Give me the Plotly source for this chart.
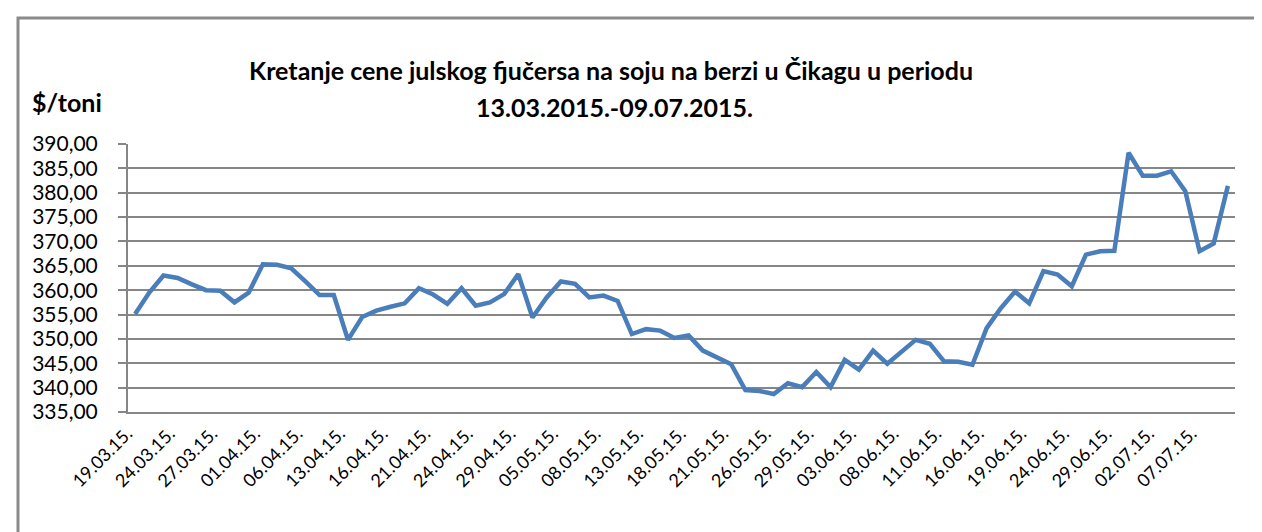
import plotly.graph_objects as go

dates = [
    "19.03.15.", "20.03.15.", "23.03.15.", "24.03.15.", "25.03.15.", "26.03.15.",
    "27.03.15.", "30.03.15.", "31.03.15.", "01.04.15.", "02.04.15.", "03.04.15.",
    "06.04.15.", "08.04.15.", "10.04.15.", "13.04.15.", "14.04.15.", "15.04.15.",
    "16.04.15.", "17.04.15.", "20.04.15.", "21.04.15.", "22.04.15.", "23.04.15.",
    "24.04.15.", "27.04.15.", "28.04.15.", "29.04.15.", "30.04.15.", "04.05.15.",
    "05.05.15.", "06.05.15.", "07.05.15.", "08.05.15.", "11.05.15.", "12.05.15.",
    "13.05.15.", "14.05.15.", "15.05.15.", "18.05.15.", "19.05.15.", "20.05.15.",
    "21.05.15.", "22.05.15.", "25.05.15.", "26.05.15.", "27.05.15.", "28.05.15.",
    "29.05.15.", "01.06.15.", "02.06.15.", "03.06.15.", "04.06.15.", "05.06.15.",
    "08.06.15.", "09.06.15.", "10.06.15.", "11.06.15.", "12.06.15.", "15.06.15.",
    "16.06.15.", "17.06.15.", "18.06.15.", "19.06.15.", "22.06.15.", "23.06.15.",
    "24.06.15.", "25.06.15.", "26.06.15.", "29.06.15.", "30.06.15.", "01.07.15.",
    "02.07.15.", "03.07.15.", "06.07.15.", "07.07.15.", "08.07.15.", "09.07.15.",
]

prices = [
    355.1, 359.5, 363.0, 362.5, 361.2, 360.0, 359.9, 357.5, 359.5, 365.3,
    365.2, 364.5, 361.8, 359.0, 359.0, 349.8, 354.5, 355.8, 356.6, 357.3,
    360.4, 359.1, 357.2, 360.4, 356.8, 357.5, 359.2, 363.3, 354.4, 358.5,
    361.8, 361.3, 358.5, 358.9, 357.8, 351.0, 352.0, 351.7, 350.2, 350.7,
    347.6, 346.2, 344.8, 339.5, 339.3, 338.7, 340.9, 340.1, 343.2, 340.1,
    345.7, 343.7, 347.6, 344.9, 347.3, 349.8, 349.0, 345.4, 345.3, 344.7,
    352.2, 356.3, 359.7, 357.3, 363.9, 363.2, 360.8, 367.3, 368.0, 368.1,
    388.2, 383.5, 383.5, 384.4, 380.3, 368.0, 369.6, 381.4,
]

tick_labels = dates[::3]

title_line1 = "Kretanje cene julskog fjučersa na soju na berzi u Čikagu u periodu"
title_line2 = "13.03.2015.-09.07.2015."
unit_label = "$/toni"

W, H = 1262, 532
L, R, T, B = 120, 1227, 136, 404

def px(xp):
    return (xp - L) / (R - L)

def py(yp):
    return (B - yp) / (B - T)

fig = go.Figure()
fig.add_trace(go.Scatter(
    x=dates, y=prices, mode="lines",
    line=dict(color="#4A7EBB", width=4.5),
    hoverinfo="x+y", showlegend=False,
))

grid = "#868686"
fig.update_layout(
    width=W, height=H,
    margin=dict(l=L, r=W - R, t=T, b=H - B, pad=0),
    paper_bgcolor="white", plot_bgcolor="white",
    separators=", ",
    font=dict(family="Lato, sans-serif", color="black"),
    showlegend=False,
)
fig.update_xaxes(
    type="category",
    range=[-0.5, len(dates) - 0.5],
    tickmode="array", tickvals=tick_labels, ticktext=tick_labels,
    tickangle=-45, tickfont=dict(size=18, family="Lato, sans-serif", color="black"),
    showgrid=False, showline=True, linecolor=grid, linewidth=2,
    ticks="", ticklabelstandoff=2, ticklabelshift=-8,
)
fig.update_yaxes(
    range=[335, 390], dtick=5, tick0=335, tickformat=".2f",
    tickfont=dict(size=21, family="Lato, sans-serif", color="black"),
    showgrid=True, gridcolor=grid, gridwidth=1.5,
    showline=True, linecolor=grid, linewidth=2,
    ticks="outside", ticklen=8, tickcolor=grid, tickwidth=1.5,
    ticklabelstandoff=16, zeroline=False,
)

fig.add_annotation(x=px(603), y=py(62), xref="paper", yref="paper",
                   text="<b>" + title_line1 + "</b>", showarrow=False,
                   xanchor="center", yanchor="middle",
                   font=dict(size=25, family="Lato, sans-serif", color="black"))
fig.add_annotation(x=px(606), y=py(99), xref="paper", yref="paper",
                   text="<b>" + title_line2 + "</b>", showarrow=False,
                   xanchor="center", yanchor="middle",
                   font=dict(size=25, family="Lato, sans-serif", color="black"))
fig.add_annotation(x=px(96), y=py(94), xref="paper", yref="paper",
                   text="<b>" + unit_label + "</b>", showarrow=False,
                   xanchor="right", yanchor="middle",
                   font=dict(size=25, family="Lato, sans-serif", color="black"))

fig.add_shape(type="rect", xref="paper", yref="paper",
              x0=px(10), x1=px(1254), y0=py(560), y1=py(10),
              line=dict(color="#8A8A8A", width=3), fillcolor="rgba(0,0,0,0)",
              layer="below")

fig.write_html("out.html")
